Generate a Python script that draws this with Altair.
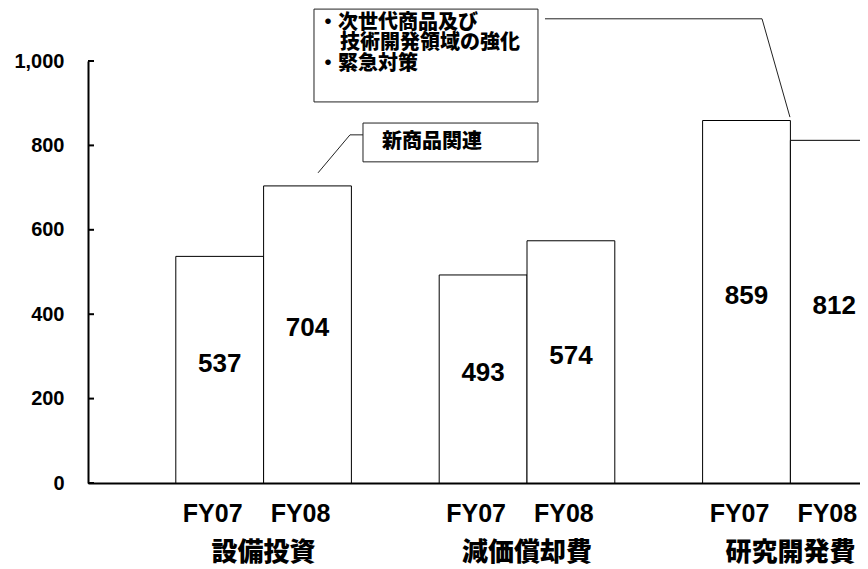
import altair as alt
import pandas as pd

# ---- data ----
categories = ["設備投資", "減価償却費", "研究開発費"]
years = ["FY07", "FY08"]
fy07 = [537, 493, 859]
fy08 = [704, 574, 812]
y_ticks = [0, 200, 400, 600, 800, 1000]

note1_lines = ["・次世代商品及び", "技術開発領域の強化", "・緊急対策"]
note2_text = "新商品関連"

# annotation geometry in data units (x: bar slots, y: value axis)
note_boxes = {"x0": [2.574, 3.132], "x1": [5.125, 5.125], "y0": [903, 761], "y1": [1123, 853]}
note_text_x = [2.62, 2.87, 2.62, 3.349]
note_text_y = [1090, 1043, 993, 808]
leader_id = [1, 1, 1, 2, 2, 2]
leader_order = [0, 1, 2, 0, 1, 2]
leader_x = [5.205, 7.677, 7.995, 2.62, 2.984, 3.132]
leader_y = [1100, 1100, 867, 735, 825, 825]

W, H = 772, 422
X_MAX = W / 87.8

rows = []
for g, cat in enumerate(categories):
    for k, (yr, v) in enumerate(zip(years, [fy07[g], fy08[g]])):
        slot = 3 * g + 1 + k
        rows.append(dict(category=cat, year=yr, value=v, x0=slot, x1=slot + 1,
                         xc=slot + 0.5, mid=v / 2))
bars_df = pd.DataFrame(rows)
groups_df = pd.DataFrame({"category": categories, "xc": [3 * g + 2 for g in range(len(categories))]})
ticks_df = pd.DataFrame({"v": y_ticks})
boxes_df = pd.DataFrame(note_boxes)
notes_df = pd.DataFrame({"t": note1_lines + [note2_text], "x": note_text_x, "y": note_text_y})
leaders_df = pd.DataFrame({"id": leader_id, "o": leader_order, "x": leader_x, "y": leader_y})

xscale = alt.Scale(domain=[0, X_MAX], nice=False, zero=False)
yscale = alt.Scale(domain=[0, 1000], nice=False)

LATIN = "Liberation Sans"
CJK = "Noto Sans CJK JP"

x_axis = alt.Axis(labels=False, ticks=False, grid=False, title=None,
                  domainColor="black", domainWidth=2)
y_axis = alt.Axis(values=y_ticks, format=",d", grid=False, ticks=False, title=None,
                  labelFont=LATIN, labelFontWeight="bold", labelFontSize=20,
                  labelColor="black", labelPadding=24,
                  domainColor="black", domainWidth=2)


def X(field):
    return alt.X(field, scale=xscale, axis=x_axis)


def Y(field):
    return alt.Y(field, scale=yscale, axis=y_axis)


bars = alt.Chart(bars_df).mark_bar(fill="white", stroke="black", strokeWidth=1, clip=True).encode(
    x=X("x0:Q"), x2="x1:Q",
    y=Y("value:Q"), y2=alt.datum(0),
)

tick_rules = alt.Chart(ticks_df).mark_rule(color="black", strokeWidth=2).encode(
    y=Y("v:Q"),
    x=alt.value(0),
    x2=alt.value(6),
)

value_text = alt.Chart(bars_df).mark_text(
    font=LATIN, fontWeight="bold", fontSize=26, color="black", baseline="middle", dy=-6
).encode(
    x=X("xc:Q"), y=Y("mid:Q"),
    text=alt.Text("value:Q", format="d"),
)

year_text = alt.Chart(bars_df).mark_text(
    font=LATIN, fontWeight="bold", fontSize=25, color="black", baseline="middle", dx=-7
).encode(
    x=X("xc:Q"),
    y=alt.value(H + 31),
    text="year:N",
)

group_text = alt.Chart(groups_df).mark_text(
    font=CJK, fontWeight=900, fontSize=26, color="black", baseline="middle"
).encode(
    x=X("xc:Q"),
    y=alt.value(H + 70),
    text="category:N",
)

boxes = alt.Chart(boxes_df).mark_rect(fill="white", stroke="#222222", strokeWidth=1).encode(
    x=X("x0:Q"), x2="x1:Q",
    y=Y("y0:Q"), y2="y1:Q",
)

notes = alt.Chart(notes_df).mark_text(
    font=CJK, fontWeight=900, fontSize=20, color="black", align="left", baseline="middle"
).encode(
    x=X("x:Q"), y=Y("y:Q"),
    text="t:N",
)

leaders = alt.Chart(leaders_df).mark_line(color="#222222", strokeWidth=1).encode(
    x=X("x:Q"), y=Y("y:Q"),
    detail="id:N",
    order="o:Q",
)

chart = alt.layer(
    bars, tick_rules, value_text, year_text, group_text, leaders, boxes, notes
).properties(
    width=W, height=H,
    autosize=alt.AutoSizeParams(type="none"),
    padding={"left": 80, "top": 53, "right": 0, "bottom": 90},
    background="white",
).configure_view(stroke=None)

chart.save("out.html", embed_options={"renderer": "svg", "actions": False})
